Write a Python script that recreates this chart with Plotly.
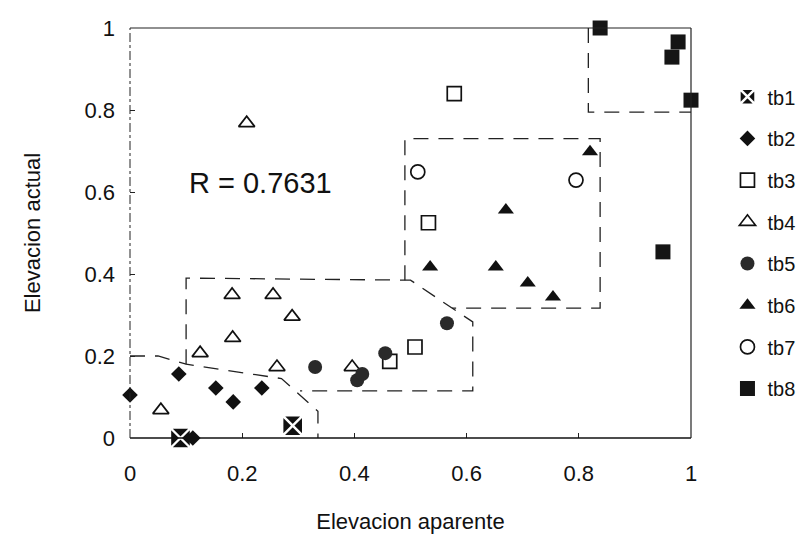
import plotly.graph_objects as go

# ---- series: (apparent elevation, actual elevation) ----
tb1_x = [0.09, 0.29]
tb1_y = [0.0, 0.03]
tb2_x = [0.0, 0.087, 0.153, 0.184, 0.235, 0.112]
tb2_y = [0.105, 0.156, 0.122, 0.088, 0.122, 0.0]
tb3_x = [0.578, 0.532, 0.508, 0.463]
tb3_y = [0.84, 0.525, 0.222, 0.187]
tb4_x = [0.208, 0.182, 0.255, 0.289, 0.183, 0.125, 0.262, 0.396, 0.055]
tb4_y = [0.768, 0.349, 0.349, 0.296, 0.244, 0.207, 0.173, 0.173, 0.068]
tb5_x = [0.33, 0.405, 0.414, 0.455, 0.565]
tb5_y = [0.173, 0.141, 0.156, 0.207, 0.28]
tb6_x = [0.82, 0.67, 0.535, 0.652, 0.709, 0.754]
tb6_y = [0.698, 0.556, 0.417, 0.417, 0.378, 0.344]
tb7_x = [0.513, 0.795]
tb7_y = [0.649, 0.629]
tb8_x = [0.838, 0.977, 0.966, 1.0, 0.95]
tb8_y = [1.0, 0.966, 0.929, 0.824, 0.454]

series_names = ["tb1", "tb2", "tb3", "tb4", "tb5", "tb6", "tb7", "tb8"]

# ---- dashed grouping regions ----
low_x = [0.0, 0.05, 0.1, 0.27, 0.335, 0.335]
low_y = [0.2, 0.2, 0.18, 0.145, 0.065, 0.0]
mid_x = [0.1, 0.1, 0.5, 0.574, 0.611, 0.611, 0.303]
mid_y = [0.18, 0.39, 0.385, 0.317, 0.283, 0.115, 0.115]
up_x = [0.49, 0.49, 0.838, 0.838, 0.574]
up_y = [0.385, 0.73, 0.73, 0.317, 0.317]
top_x = [0.817, 0.817, 1.0]
top_y = [1.0, 0.795, 0.795]

tick_vals = [0, 0.2, 0.4, 0.6, 0.8, 1]
tick_text = ["0", "0.2", "0.4", "0.6", "0.8", "1"]

r_label = "R = 0.7631"
r_pos = (0.233, 0.622)

FONT = "Liberation Sans, Arial, sans-serif"

fig = go.Figure()

for rx, ry in [(low_x, low_y), (mid_x, mid_y), (up_x, up_y), (top_x, top_y)]:
    fig.add_trace(go.Scatter(x=rx, y=ry, mode="lines", showlegend=False,
                             hoverinfo="skip",
                             line=dict(color="#222", width=1.3, dash="15px,10px")))

styles = {
    "tb1": dict(symbol="square-x", size=21, color="#111", line=dict(color="white", width=2.4)),
    "tb2": dict(symbol="diamond", size=12, color="#111", line=dict(width=0)),
    "tb3": dict(symbol="square-open", size=14, color="#111", line=dict(width=1.7)),
    "tb4": dict(symbol="triangle-up-open", size=14, color="#111", line=dict(width=1.7)),
    "tb5": dict(symbol="circle", size=14, color="#2a2a2a", line=dict(width=0)),
    "tb6": dict(symbol="triangle-up", size=14, color="#111", line=dict(width=0)),
    "tb7": dict(symbol="circle-open", size=14, color="#111", line=dict(width=1.7)),
    "tb8": dict(symbol="square", size=15, color="#151515", line=dict(width=0)),
}
data = {
    "tb1": (tb1_x, tb1_y), "tb2": (tb2_x, tb2_y), "tb3": (tb3_x, tb3_y),
    "tb4": (tb4_x, tb4_y), "tb5": (tb5_x, tb5_y), "tb6": (tb6_x, tb6_y),
    "tb7": (tb7_x, tb7_y), "tb8": (tb8_x, tb8_y),
}
for name in series_names:
    xs, ys = data[name]
    fig.add_trace(go.Scatter(x=xs, y=ys, mode="markers", name=name,
                             legendgroup=name, marker=styles[name],
                             cliponaxis=False))

fig.add_annotation(x=r_pos[0], y=r_pos[1], text=r_label, showarrow=False,
                   font=dict(family=FONT, size=29, color="#111"))

# plot frame
fig.add_shape(type="line", xref="x domain", yref="y domain", x0=0, x1=1, y0=0, y1=0,
              line=dict(color="#111", width=1.3))
fig.add_shape(type="line", xref="x domain", yref="y domain", x0=0, x1=1, y0=1, y1=1,
              line=dict(color="#222", width=1.2))
fig.add_shape(type="line", xref="x domain", yref="y domain", x0=1, x1=1, y0=0, y1=1,
              line=dict(color="#222", width=1.2))
fig.add_shape(type="line", xref="x domain", yref="y domain", x0=0, x1=0, y0=0, y1=1,
              line=dict(color="#222", width=1, dash="dashdot"))

axis_common = dict(range=[0, 1], showgrid=False, zeroline=False,
                   showline=False, ticks="inside", ticklen=5, tickcolor="#222",
                   tickvals=tick_vals, ticktext=tick_text,
                   tickfont=dict(family=FONT, size=22, color="#111"))

fig.update_xaxes(**axis_common, ticklabelstandoff=20,
                 title=dict(text="Elevacion aparente", standoff=28,
                            font=dict(family=FONT, size=22, color="#111")))
fig.update_yaxes(**axis_common, ticklabelstandoff=14,
                 title=dict(text="Elevacion actual", standoff=37,
                            font=dict(family=FONT, size=22, color="#111")))

fig.update_layout(
    width=796, height=534,
    margin=dict(l=130, r=105, t=28, b=96, autoexpand=False),
    plot_bgcolor="white", paper_bgcolor="white",
    font=dict(family=FONT, color="#111"),
    legend=dict(x=1.065, y=0.88, xanchor="left", yanchor="top",
                font=dict(family=FONT, size=20, color="#111"),
                tracegroupgap=12.7, itemwidth=30, bgcolor="rgba(0,0,0,0)"),
)

fig.write_html("out.html")
